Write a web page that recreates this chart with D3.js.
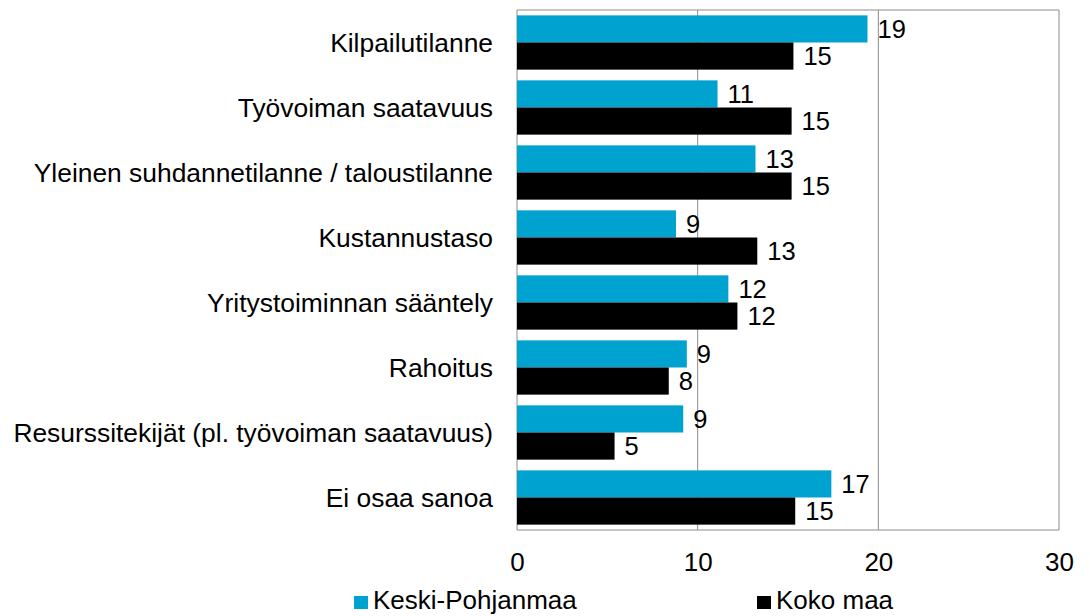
<!DOCTYPE html>
<html>
<head>
<meta charset="utf-8">
<script src="https://cdn.jsdelivr.net/npm/d3@7"></script>
<style>
  body { margin: 0; background: #fff; }
  svg { display: block; font-family: Arial, "Liberation Sans", sans-serif; }
</style>
</head>
<body>
<div id="chart"></div>
<script>
// data
const categories = [
  "Kilpailutilanne",
  "Työvoiman saatavuus",
  "Yleinen suhdannetilanne / taloustilanne",
  "Kustannustaso",
  "Yritystoiminnan sääntely",
  "Rahoitus",
  "Resurssitekijät (pl. työvoiman saatavuus)",
  "Ei osaa sanoa"
];
const series_names = ["Keski-Pohjanmaa", "Koko maa"];
const keski_pohjanmaa = [19.4, 11.1, 13.2, 8.8, 11.7, 9.4, 9.2, 17.4];
const koko_maa = [15.3, 15.2, 15.2, 13.3, 12.2, 8.4, 5.4, 15.4];
const x_ticks = [0, 10, 20, 30];
const colors = ["#00a3cf", "#000000"];

const width = 1090, height = 616;
const plot = {left: 517, right: 1059, top: 10, bottom: 530};

const svg = d3.select("#chart").append("svg")
  .attr("width", width)
  .attr("height", height);

const x = d3.scaleLinear()
  .domain([0, 30])
  .range([plot.left, plot.right]);

const y = d3.scaleBand()
  .domain(categories)
  .range([plot.top, plot.bottom])
  .paddingInner(0.165)
  .paddingOuter(0.0825);

const ySeries = d3.scaleBand()
  .domain(series_names)
  .range([0, y.bandwidth()]);

const rows = categories.map((c, i) => ({
  name: c,
  values: [keski_pohjanmaa[i], koko_maa[i]]
}));

// gridlines
svg.append("g")
  .selectAll("line")
  .data(x_ticks)
  .enter()
  .append("line")
    .attr("x1", d => x(d))
    .attr("x2", d => x(d))
    .attr("y1", plot.top)
    .attr("y2", plot.bottom)
    .attr("stroke", "#8c8c8c")
    .attr("stroke-width", 1);

// top + bottom border of plot area
svg.append("line")
  .attr("x1", plot.left).attr("x2", plot.right)
  .attr("y1", plot.top).attr("y2", plot.top)
  .attr("stroke", "#8c8c8c");
svg.append("line")
  .attr("x1", plot.left).attr("x2", plot.right)
  .attr("y1", plot.bottom).attr("y2", plot.bottom)
  .attr("stroke", "#8c8c8c");

// bars
const groups = svg.append("g")
  .selectAll("g")
  .data(rows)
  .enter()
  .append("g")
    .attr("transform", d => "translate(0," + y(d.name) + ")");

groups.selectAll("rect")
  .data(d => d.values.map((v, j) => ({series: series_names[j], value: v, j: j})))
  .enter()
  .append("rect")
    .attr("x", x(0))
    .attr("y", d => ySeries(d.series))
    .attr("width", d => x(d.value) - x(0))
    .attr("height", ySeries.bandwidth())
    .attr("fill", d => colors[d.j]);

groups.selectAll("text")
  .data(d => d.values.map((v, j) => ({series: series_names[j], value: v})))
  .enter()
  .append("text")
    .attr("x", d => x(d.value) + 10)
    .attr("y", d => ySeries(d.series) + ySeries.bandwidth() / 2)
    .attr("dy", "0.36em")
    .attr("font-size", "25.5px")
    .attr("fill", "#000")
    .text(d => Math.round(d.value));

// category labels
svg.append("g")
  .selectAll("text")
  .data(categories)
  .enter()
  .append("text")
    .attr("x", plot.left - 24)
    .attr("y", d => y(d) + y.bandwidth() / 2)
    .attr("dy", "0.36em")
    .attr("text-anchor", "end")
    .attr("font-size", "26.4px")
    .attr("fill", "#000")
    .text(d => d);

// x axis labels
const xAxis = svg.append("g")
  .attr("transform", "translate(0," + plot.bottom + ")")
  .call(d3.axisBottom(x).tickValues(x_ticks).tickSize(0).tickPadding(23));
xAxis.select(".domain").remove();
xAxis.selectAll("text")
  .attr("font-size", "26px")
  .attr("font-family", "Arial, 'Liberation Sans', sans-serif")
  .attr("fill", "#000");

// legend
const legend_pos = [354, 757];
const legend = svg.append("g")
  .selectAll("g")
  .data(series_names)
  .enter()
  .append("g")
    .attr("transform", (d, i) => "translate(" + legend_pos[i] + ",596)");
legend.append("rect")
  .attr("width", 14)
  .attr("height", 13)
  .attr("fill", (d, i) => colors[i]);
legend.append("text")
  .attr("x", 19)
  .attr("y", 13)
  .attr("font-size", "26px")
  .attr("fill", "#000")
  .text(d => d);
</script>
</body>
</html>
